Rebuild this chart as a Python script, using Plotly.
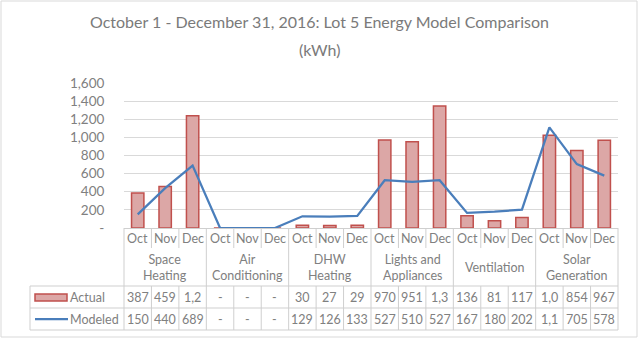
import plotly.graph_objects as go

# ---------------- data ----------------
months = ["Oct", "Nov", "Dec"]
groups = ["Space<br>Heating", "Air<br>Conditioning", "DHW<br>Heating",
          "Lights and<br>Appliances", "Ventilation", "Solar<br>Generation"]
actual = [387, 459, 1238, 0, 0, 0, 30, 27, 29, 970, 951, 1345, 136, 81, 117, 1023, 854, 967]
modeled = [150, 440, 689, 0, 0, 0, 129, 126, 133, 527, 510, 527, 167, 180, 202, 1110, 705, 578]
series_names = ["Actual", "Modeled"]
y_tickvals = [0, 200, 400, 600, 800, 1000, 1200, 1400, 1600]
y_ticktext = ["-", "200", "400", "600", "800", "1,000", "1,200", "1,400", "1,600"]
title_lines = ["October 1 - December 31, 2016: Lot 5 Energy Model Comparison", "(kWh)"]

# ---------------- geometry helpers ----------------
W, H = 639, 340
L, R, T, B = 124, 618, 83, 228
N = len(actual)
xs = list(range(N))


def px_y(py):
    return (B - py) / (B - T)


def paper_x(px):
    return (px - L) / (R - L)


def cat_x(i):
    # category index -> paper x
    return (i + 0.5) / N


def cell(v):
    return f"{v:,}"[:3] if v else "-"


BAR_FILL = "#dca7a6"
BAR_LINE = "#c0504d"
LINE_COL = "#4a7ebb"
TXT = "#808080"
GRID = "#d9d9d9"
BORDER = "#cfcfcf"
FONT = "Lato"
TSIZE = 12.5

fig = go.Figure()
fig.add_trace(go.Bar(x=xs, y=actual, name=series_names[0], width=0.45,
                     marker=dict(color=BAR_FILL, line=dict(color=BAR_LINE, width=1.5))))
fig.add_trace(go.Scatter(x=xs, y=modeled, name=series_names[1], mode="lines",
                         line=dict(color=LINE_COL, width=2.25)))

shapes = []
ann = []


def line_p(x0, x1, y0, y1, color=BORDER, width=1):
    shapes.append(dict(type="line", xref="paper", yref="paper", x0=x0, x1=x1,
                       y0=px_y(y0), y1=px_y(y1), line=dict(color=color, width=width)))


ROW_TOP, ROW_MID, ROW_BOT, MONTH_BOT = 286, 308, 330, 248
for yy in (ROW_TOP, ROW_MID, ROW_BOT):
    line_p(paper_x(30), 1, yy, yy)
line_p(paper_x(30), paper_x(30), ROW_TOP, ROW_BOT)
for i in range(N + 1):
    xb = cat_x(i - 0.5)
    if i % 3 == 0:
        line_p(xb, xb, B, ROW_BOT)
    else:
        line_p(xb, xb, B, MONTH_BOT)
        line_p(xb, xb, ROW_TOP, ROW_BOT)

for i in xs:
    ann.append(dict(x=cat_x(i), y=px_y(238), text=months[i % 3]))
    ann.append(dict(x=cat_x(i), y=px_y(297), text=cell(actual[i])))
    ann.append(dict(x=cat_x(i), y=px_y(319), text=cell(modeled[i])))
for g, name in enumerate(groups):
    ann.append(dict(x=cat_x(3 * g + 1), y=px_y(267), text=name))

for a in ann:
    a.update(xref="paper", yref="paper", showarrow=False, xanchor="center", yanchor="middle",
             font=dict(family=FONT, size=TSIZE, color=TXT))

# legend keys inside the data table
shapes.append(dict(type="rect", xref="paper", yref="paper", x0=paper_x(35), x1=paper_x(67),
                   y0=px_y(301), y1=px_y(294), fillcolor=BAR_FILL,
                   line=dict(color=BAR_LINE, width=1.5)))
line_p(paper_x(35), paper_x(68), 319, 319, color=LINE_COL, width=2.25)
for name, yy in zip(series_names, [297, 319]):
    ann.append(dict(x=paper_x(68), y=px_y(yy), text=name, xref="paper", yref="paper",
                    showarrow=False, xanchor="left", yanchor="middle",
                    font=dict(family=FONT, size=TSIZE, color=TXT)))

for line, yy in zip(title_lines, [21, 49]):
    ann.append(dict(x=paper_x(W / 2), y=px_y(yy), xref="paper", yref="paper", text=line,
                    showarrow=False, xanchor="center", yanchor="middle",
                    font=dict(family=FONT, size=16, color="#7a7a7a")))

shapes.append(dict(type="rect", xref="paper", yref="paper",
                   x0=paper_x(1), x1=paper_x(637),
                   y0=px_y(337), y1=px_y(1), line=dict(color=GRID, width=1)))

fig.update_layout(
    width=W, height=H,
    margin=dict(l=L, r=W - R, t=T, b=H - B),
    paper_bgcolor="white", plot_bgcolor="white",
    showlegend=False,
    shapes=shapes, annotations=ann,
    font=dict(family=FONT, color=TXT),
    xaxis=dict(range=[-0.5, N - 0.5], showticklabels=False, showgrid=False, zeroline=False,
               showline=False, fixedrange=True),
    yaxis=dict(range=[0, 1600], tickvals=y_tickvals, ticktext=y_ticktext,
               showgrid=True, gridcolor=GRID, gridwidth=1, zeroline=True, zerolinecolor=BORDER,
               zerolinewidth=1, ticks="outside", ticklen=16, tickcolor="rgba(0,0,0,0)",
               tickfont=dict(family=FONT, size=13.5, color=TXT), showline=False),
)

fig.write_html("out.html")
